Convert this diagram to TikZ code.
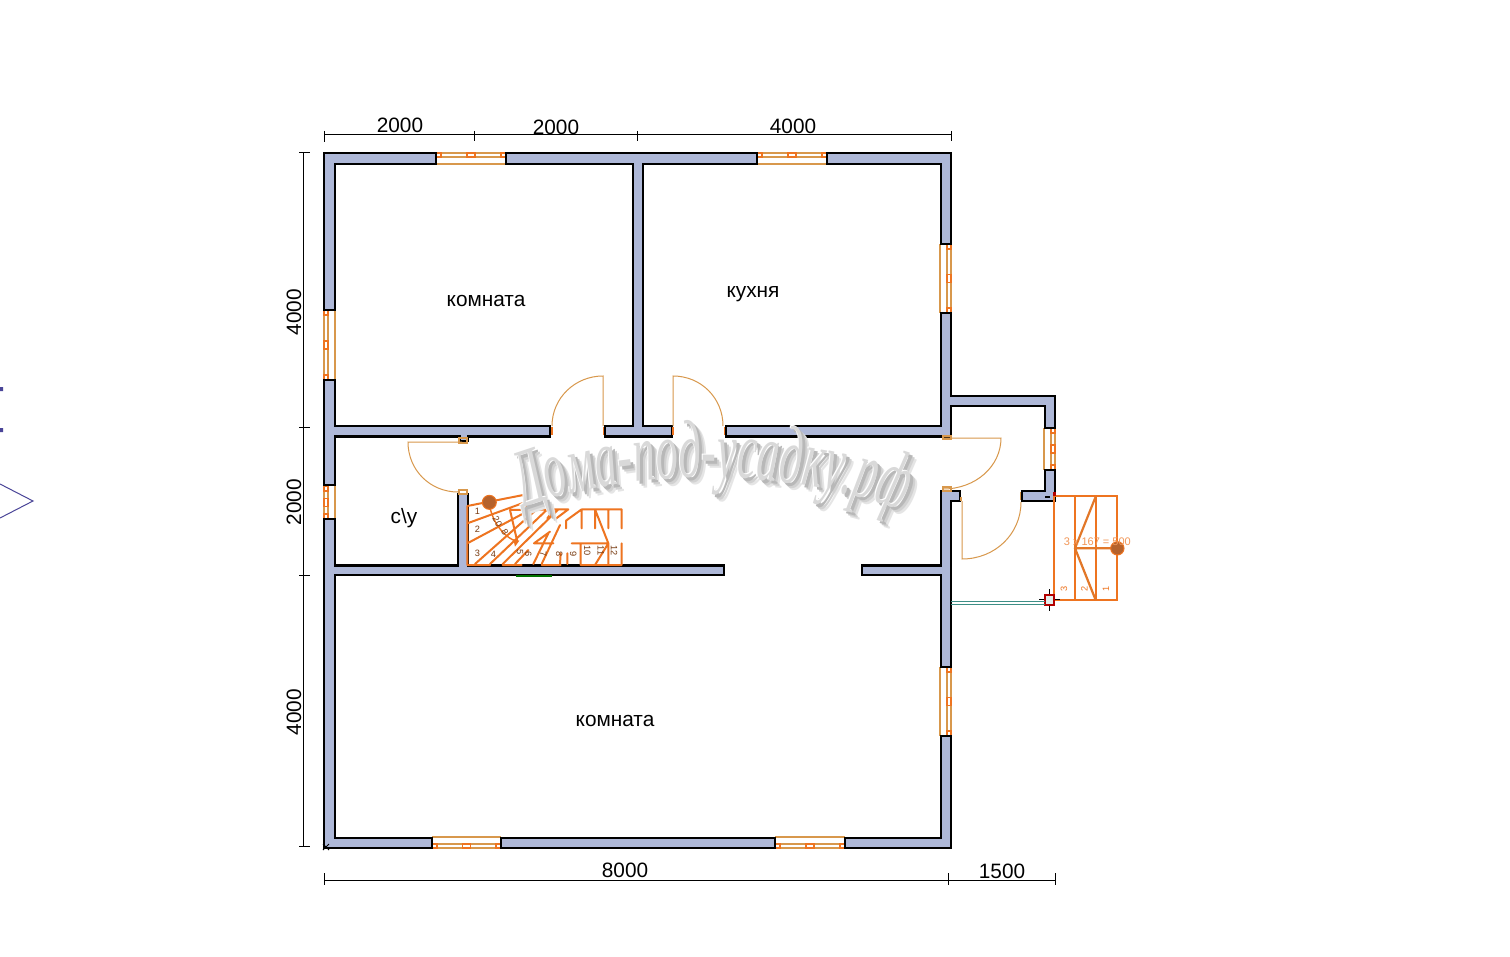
\documentclass[tikz,border=0pt]{standalone}
\usepackage{fontspec}
\setmainfont{Liberation Sans}
\newfontfamily\wmf[FakeStretch=0.54]{Liberation Serif}
\usetikzlibrary{decorations.text}
\definecolor{wallblue}{HTML}{AEB8D8}
\definecolor{orng}{HTML}{EE7420}
\definecolor{tanl}{HTML}{D8984C}
\definecolor{brownc}{HTML}{B5622C}
\definecolor{markblue}{HTML}{4A4598}
\definecolor{tealw}{HTML}{3E8E86}
\tikzset{
  wallst/.style={fill=wallblue,draw=black,line width=1.3pt,line join=miter},
  dimst/.style={draw=black,line width=0.5pt},
  lab/.style={font=\fontsize{10.4}{12}\selectfont,text=black,inner sep=0pt},
  tanst/.style={draw=tanl,line width=0.5pt},
  orst/.style={draw=orng,line width=0.9pt},
  stairnum/.style={font=\fontsize{4.6}{5}\selectfont,text=black!50!orng,inner sep=0pt},
}
\newcommand\winbody[1]{%
  \draw[tanst,line width=.6pt] (0,11) -- (#1,11);
  \draw[tanst,line width=.55pt] (0,0) -- (#1,0) (0,4) -- (#1,4);
  \draw[orst,line width=.6pt] (0,0) rectangle (5,4) ({#1/2-4},0) rectangle ({#1/2+4},4) ({#1-5},0) rectangle (#1,4);
}
\newcommand\wintop[3]{\begin{scope}[shift={(#1,#2)}]\winbody{#3}\end{scope}}
\newcommand\winbot[3]{\begin{scope}[shift={(#1,#2)},x={(.5pt,0)},y={(0,.5pt)}]\winbody{#3}\end{scope}}
\newcommand\winleft[3]{\begin{scope}[shift={(#1,#2)},x={(0,-.5pt)},y={(.5pt,0)}]\winbody{#3}\end{scope}}
\newcommand\winright[3]{\begin{scope}[shift={(#1,#2)},x={(0,-.5pt)},y={(-.5pt,0)}]\winbody{#3}\end{scope}}
\newcommand\wmk[3]{\begin{scope}[shift={(#1,#2)}]
  \path[decorate,decoration={text along path,text align=center,
    text={|\wmf\itshape\fontsize{41}{41}\selectfont\color{#3}|Дома-под-усадку.рф}}]
    (490,522) .. controls (615,462) and (800,462) .. (935,524);
\end{scope}}
\begin{document}
\begin{tikzpicture}[x=.5pt,y=-.5pt]
\useasboundingbox (0,0) rectangle (1510,957);
\fill[white] (0,0) rectangle (1510,957);

% marks at the left edge
\fill[markblue] (0,387) rectangle (3,391) (0,428) rectangle (3,432);
\draw[markblue,line width=.5pt] (0,484) -- (33,501) -- (0,518);

% dimension lines
\draw[dimst] (324,135) -- (951,135)
  (324,131) -- (324,142) (474,131) -- (474,141) (637,131) -- (637,141) (951,131) -- (951,141);
\draw[dimst] (303.5,153) -- (303.5,847)
  (299,153) -- (310,153) (299,427) -- (310,427) (299,575) -- (310,575) (299,846) -- (310,846);
\draw[dimst] (324,880) -- (1055,880)
  (324,873) -- (324,885) (948,873) -- (948,885) (1055,873) -- (1055,885);
\node[lab] at (400,125) {2000};
\node[lab] at (556,127.500) {2000};
\node[lab] at (793,126.500) {4000};
\node[lab] at (625,870) {8000};
\node[lab] at (1002,871) {1500};
\node[lab,rotate=90] at (294,312) {4000};
\node[lab,rotate=90] at (294,502) {2000};
\node[lab,rotate=90] at (294,712) {4000};

% windows
\wintop{436}{153}{70}
\wintop{757}{153}{70}
\winleft{324}{310}{70}
\winleft{324}{486}{33}
\winright{951}{244}{69}
\winright{951}{667}{69}
\winright{1055}{428}{42}
\winbot{432}{848}{69}
\winbot{775}{848}{70}

% walls
\draw[wallst] (324,153) -- (436,153) -- (436,164) -- (335,164) -- (335,310) -- (324,310) -- cycle;
\draw[wallst] (506,153) -- (757,153) -- (757,164) -- (643,164) -- (643,426) -- (672,426) -- (672,436.500) -- (605,436.500) -- (605,426) -- (633,426) -- (633,164) -- (506,164) -- cycle;
\draw[wallst] (827,153) -- (951,153) -- (951,244) -- (941,244) -- (941,164) -- (827,164) -- cycle;
\draw[wallst] (941,313) -- (951,313) -- (951,396) -- (1055,396) -- (1055,428) -- (1045,428) -- (1045,406) -- (951,406) -- (951,436.500) -- (726,436.500) -- (726,426) -- (941,426) -- cycle;
\draw[wallst] (1045,470) -- (1055,470) -- (1055,501) -- (1022,501) -- (1022,491) -- (1045,491) -- cycle;
\draw[wallst] (941,491) -- (960,491) -- (960,501) -- (951,501) -- (951,667) -- (941,667) -- (941,575) -- (862,575) -- (862,565.500) -- (941,565.500) -- cycle;
\draw[wallst] (941,736) -- (951,736) -- (951,848) -- (845,848) -- (845,838) -- (941,838) -- cycle;
\draw[wallst] (501,838) -- (775,838) -- (775,848) -- (501,848) -- cycle;
\draw[wallst] (324,519) -- (335,519) -- (335,565.500) -- (458,565.500) -- (458,494) -- (468,494) -- (468,565.500) -- (724,565.500) -- (724,575) -- (335,575) -- (335,838) -- (432,838) -- (432,848) -- (324,848) -- cycle;
\draw[wallst] (324,380) -- (335,380) -- (335,426) -- (550,426) -- (550,436.500) -- (468,436.500) -- (468,441) -- (460,441) -- (460,436.500) -- (335,436.500) -- (335,485) -- (324,485) -- cycle;
% small cross at the origin
\draw[black,line width=.5pt] (323,844) -- (329,850) (329,844) -- (323,850);
\draw[black,line width=.6pt] (1045,497) -- (1050,497);

% doors
\draw[tanst] (603,426) -- (603,376) .. controls (575,376) and (552,398) .. (552,426);
\draw[tanst] (673,426) -- (673,376) .. controls (701,376) and (723,398) .. (723,426);
\draw[tanst] (462,442) -- (408,442) .. controls (408,470) and (430,492) .. (458,492);
\draw[tanst] (943,438) -- (1001,438) .. controls (1001,466) and (976,489) .. (943,489);
\draw[tanst] (962,501) -- (962,559) .. controls (995,559) and (1021,534) .. (1021,502);
\draw[orst] (552,427) -- (552,435) (603.500,427) -- (603.500,435) (673,427) -- (673,435) (724.500,427) -- (724.500,435);
\draw[tanst,line width=.7pt] (459,438) rectangle (467,443) (459,490) rectangle (467,494)
  (943,436) rectangle (951,439) (943,487) rectangle (951,491) (961,497) -- (961,501) (1020.500,492) -- (1020.500,500);

% inner stair
\begin{scope}[shift={(460,490)},scale=1/3]
  \draw[orst,line width=1pt,line cap=round]
    (22,48) -- (190,15) -- (205,65)
    (22,48) -- (22,225)
    (22,225) -- (90,225) (128,225) -- (185,225) (245,225) -- (302,225) (362,225) -- (485,225)
    (22,100) -- (192,38)
    (22,160) -- (200,65)
    (45,222) -- (230,58)
    (90,222) -- (262,58)
    (128,222) -- (295,58)
    (165,222) -- (205,180)
    (150,60) -- (325,58)
    (262,85) -- (282,58) (285,88) -- (325,58)
    (365,58) -- (485,58)
    (318,92) -- (365,58)
    (318,92) -- (318,115)
    (365,58) -- (365,115) (405,58) -- (405,115) (445,58) -- (445,115) (485,58) -- (485,115)
    (335,160) -- (445,160)
    (362,160) -- (362,225) (445,160) -- (445,225) (485,160) -- (485,225)
    (405,58) -- (445,160) -- (405,225)
    (222,160) -- (270,125) (222,160) -- (280,160)
    (220,222) -- (265,130) (245,222) -- (300,105)
    (150,60) -- (172,155)
    (300,222) -- (302,190) (322,190) -- (322,222);
  \draw[orst,line width=.7pt] (88,38) .. controls (92,85) and (125,140) .. (172,155);
  \fill[orng] (160,148) -- (178,152) -- (165,170) -- cycle;
  \fill[brownc,draw=orng,line width=.5pt] (88,37) circle (21);
  \node[stairnum] at (52,65) {1};
  \node[stairnum] at (52,117) {2};
  \node[stairnum] at (52,190) {3};
  \node[stairnum] at (100,192) {4};
  \node[stairnum,rotate=-60] at (112,95) {20};
  \node[stairnum,rotate=-60] at (135,125) {8};
  \node[stairnum,rotate=-90] at (180,185) {5};
  \node[stairnum,rotate=-90] at (205,192) {6};
  \node[stairnum,rotate=-90] at (250,192) {7};
  \node[stairnum,rotate=-90] at (298,192) {8};
  \node[stairnum,rotate=-90] at (340,192) {9};
  \node[stairnum,rotate=-90] at (382,182) {10};
  \node[stairnum,rotate=-90] at (422,182) {11};
  \node[stairnum,rotate=-90] at (462,182) {12};
\end{scope}
\draw[green!45!black,line width=.8pt] (516,576) -- (552,576);

% outer stair
\begin{scope}[shift={(930,380)},scale=1/3]
  \draw[orst,line width=1.1pt] (373,347) rectangle (562,660);
  \draw[orst,line width=1.1pt] (435,347) -- (435,660) (497,347) -- (497,660);
  \draw[orng!75!brown,line width=1.1pt] (435,505) -- (562,505) (497,350) -- (435,505) -- (497,660);
  \fill[brownc,draw=orng,line width=.5pt] (562,505) circle (20);
  \node[font=\fontsize{5.5}{6}\selectfont,text=orng!75!white,inner sep=0pt] at (502,485) {3 x 167 = 500};
  \node[stairnum,text=orng,rotate=90] at (402,628) {3};
  \node[stairnum,text=orng,rotate=90] at (463,628) {2};
  \node[stairnum,text=orng,rotate=90] at (528,628) {1};
  \draw[black,line width=.5pt] (328,660) -- (390,660) (359,628) -- (359,692);
  \fill[white!85!tealw] (345,646) rectangle (373,675);
  \draw[red!70!black,line width=1.1pt] (345,646) rectangle (373,675);
  \draw[tealw,line width=.8pt] (64,664) -- (345,664) (64,674) -- (345,674);
\end{scope}
\fill[red!70!black] (1053,492) rectangle (1056,496);

% room labels
\node[lab] at (486,301) {комната};
\node[lab] at (753,294) {кухня};
\node[lab] at (404,518) {c\textbackslash y};
\node[lab] at (615,721) {комната};

% watermark
\wmk{7}{7}{black!10}
\wmk{5}{5}{black!18}
\wmk{3}{3}{black!28}
\wmk{-1}{-1}{white}
\wmk{0}{0}{black!15}
\end{tikzpicture}
\end{document}
